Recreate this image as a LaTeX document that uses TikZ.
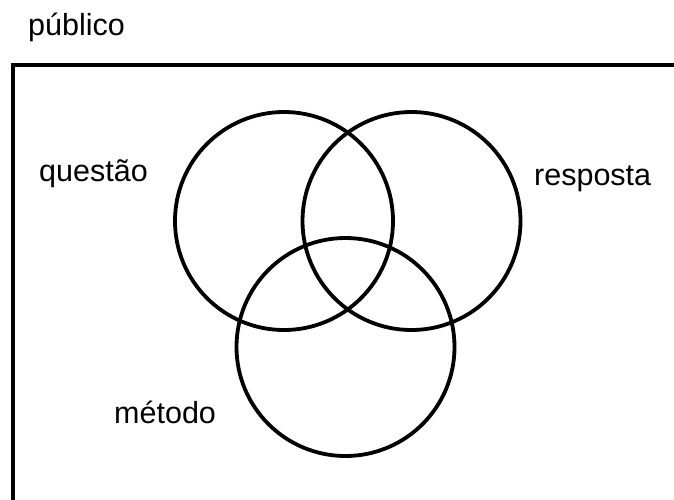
\documentclass[tikz,border=0pt]{standalone}
\usepackage{fontspec}
\setmainfont{Liberation Sans}
\begin{document}
\begin{tikzpicture}[x=1pt,y=-1pt,
  ring/.style={circle,draw=black,line width=3.8pt,inner sep=0pt,minimum size=218pt},
  lbl/.style={anchor=base west,inner sep=0pt,font=\fontsize{30.5}{36}\selectfont},
  frame/.style={draw=black,line width=4pt}]
\useasboundingbox (0,0) rectangle (674,499);
\clip (0,0) rectangle (674,499);
\coordinate (fbl) at (13,520);
\coordinate (ftl) at (13,65);
\coordinate (ftr) at (700,65);
\draw[frame] (fbl) -- (ftl) -- (ftr);
\node[ring] (q) at (284,221) {};
\node[ring] (r) at (411.5,221) {};
\node[ring] (m) at (345.5,347) {};
\node[lbl] (pub) at (28,35) {público};
\node[lbl] (lq) at (39,181) {questão};
\node[lbl] (lr) at (534,185) {resposta};
\node[lbl] (lm) at (114,423) {método};
\end{tikzpicture}
\end{document}
